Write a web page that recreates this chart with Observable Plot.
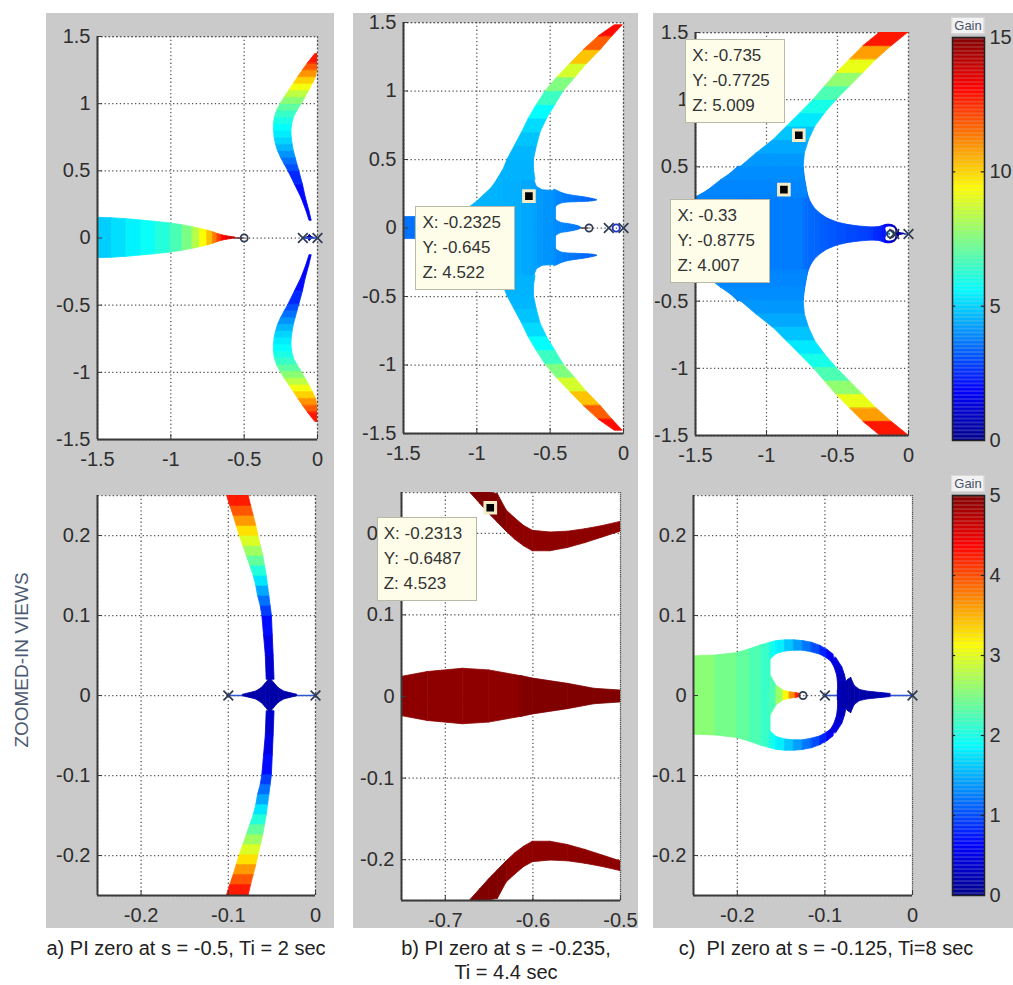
<!DOCTYPE html>
<html><head><meta charset="utf-8">
<script src="https://cdn.jsdelivr.net/npm/d3@7"></script>
<script src="https://cdn.jsdelivr.net/npm/@observablehq/plot@0.6"></script>
<style>
body{margin:0;background:#fff;font-family:"Liberation Sans",Arial,Helvetica,sans-serif;}
#wrap{position:relative;width:1013px;height:985px;overflow:hidden;background:#fff;}
.col{position:absolute;background:#cacaca;}
.pl{position:absolute;}
.tip{position:absolute;width:100px;height:84px;background:#fdfde9;border:1px solid #b8b8a6;font-size:17px;line-height:25px;color:#333;padding:3px 0 0 6px;box-sizing:border-box;white-space:nowrap;}
.cap{position:absolute;font-size:20px;line-height:24px;color:#222;text-align:center;white-space:nowrap;transform:translateX(-50%);}
.gain{position:absolute;font-size:13px;line-height:15px;color:#4a5268;background:#f2f2f2;border:1px solid #d8d8d8;padding:0 2px;transform:translateX(-50%);}
.side{position:absolute;font-size:19px;color:#4c5a72;white-space:nowrap;transform:translate(-50%,-50%) rotate(-90deg);}
</style></head><body><div id="wrap"></div>
<script>
// ---------------- data ----------------
const xTicksTop = [-1.5, -1, -0.5, 0];
const yTicksTop = [-1.5, -1, -0.5, 0, 0.5, 1, 1.5];
const xTicksZoomAC = [-0.2, -0.1, 0];
const xTicksZoomB = [-0.7, -0.6, -0.5];
const yTicksZoom = [-0.2, -0.1, 0, 0.1, 0.2];
const gainTicksTop = [0, 5, 10, 15];
const gainTicksBottom = [0, 1, 2, 3, 4, 5];

const polesA = [-0.1, 0], zerosA = [-0.5];
const polesB = [-0.1, 0], zerosB = [-0.235];
const polesC = [-0.1, 0], zerosC = [-0.125];
const loopsB = [-0.05];

// band rows: [x, halfWidth, gain]; Y rows: [x, yLow, yHigh, gain]; X rows: [y, xLeft, xRight, gain]
const aTopReal = [
  [-1.5,0.15,4.8],[-1.4,0.147,5.0],[-1.3,0.14,5.3],[-1.2,0.13,5.6],[-1.1,0.12,5.9],[-1.0,0.108,6.4],
  [-0.92,0.095,7.0],[-0.85,0.08,7.8],[-0.8,0.068,8.8],[-0.75,0.055,9.8],[-0.71,0.042,10.8],
  [-0.68,0.03,11.8],[-0.65,0.02,12.8],[-0.62,0.013,13.4],[-0.59,0.008,13.8],[-0.56,0.004,14.2]];
const aTopArc = [
  [0.13,-0.055,-0.04,1.7],[0.2,-0.075,-0.055,1.8],[0.3,-0.11,-0.08,1.9],[0.4,-0.155,-0.1,2.1],
  [0.5,-0.2,-0.125,2.8],[0.55,-0.226,-0.138,3.3],[0.6,-0.25,-0.15,3.8],[0.65,-0.27,-0.162,4.3],
  [0.7,-0.284,-0.17,4.8],[0.75,-0.293,-0.176,5.2],[0.8,-0.297,-0.178,5.5],[0.85,-0.297,-0.172,5.8],
  [0.9,-0.29,-0.16,6.2],[0.95,-0.275,-0.135,6.7],[1.0,-0.25,-0.105,7.3],[1.05,-0.222,-0.08,8.0],
  [1.1,-0.19,-0.055,8.8],[1.15,-0.16,-0.03,9.6],[1.2,-0.13,-0.01,10.5],[1.25,-0.098,0,11.4],
  [1.3,-0.065,0,12.2],[1.37,-0.015,0,13.4]];
const aTopStem = [[-0.56, -0.5]];
const aBotArc = [
  [0.02,-0.056,-0.047,0.3],[0.05,-0.057,-0.048,0.4],[0.075,-0.059,-0.049,0.55],[0.1,-0.061,-0.05,0.8],
  [0.1125,-0.063,-0.0515,1.05],[0.125,-0.066,-0.053,1.3],[0.1375,-0.068,-0.0545,1.6],[0.15,-0.071,-0.056,1.9],
  [0.1625,-0.075,-0.058,2.2],[0.175,-0.079,-0.06,2.5],[0.1875,-0.083,-0.0628,2.8],[0.2,-0.087,-0.0655,3.1],
  [0.2125,-0.0905,-0.068,3.45],[0.225,-0.094,-0.071,3.8],[0.2375,-0.098,-0.074,4.1],[0.25,-0.1015,-0.0767,4.4]];
const aBotBlob = [
  [-0.083,0.001,0.15],[-0.075,0.003,0.15],[-0.068,0.005,0.15],[-0.062,0.009,0.15],[-0.057,0.015,0.15],
  [-0.052,0.022,0.15],[-0.047,0.015,0.15],[-0.042,0.009,0.15],[-0.036,0.005,0.15],[-0.029,0.003,0.15],[-0.021,0.001,0.15]];
const aBotStem = [[-0.1, 0]];

const bTopBody = [
  [-1.5,0.08,3.5],[-1.42,0.08,3.6],[-1.3,0.09,3.9],[-1.15,0.12,4.3],[-1.05,0.15,4.5],[-1.0,0.19,4.5],
  [-0.95,0.24,4.5],[-0.9,0.29,4.5],[-0.86,0.35,4.5],[-0.82,0.42,4.5],[-0.7,0.42,4.4],[-0.62,0.38,4.3],
  [-0.59,0.3,4.2],[-0.55,0.275,4.1],[-0.46,0.27,4.0]];
const bTopArm = [
  [0.35,-0.86,-0.6,4.5],[0.42,-0.82,-0.61,4.5],[0.5,-0.79,-0.61,4.5],[0.6,-0.74,-0.59,4.6],
  [0.7,-0.69,-0.565,4.9],[0.8,-0.645,-0.52,5.3],[0.9,-0.59,-0.463,6.0],[1.0,-0.53,-0.406,7.0],
  [1.1,-0.45,-0.326,8.0],[1.2,-0.36,-0.246,9.5],[1.3,-0.27,-0.155,11.0],[1.4,-0.167,-0.075,12.5],[1.48,-0.06,-0.005,13.5]];
const bTopNeck = [
  [-0.47,0.07,4.0],[-0.45,0.05,3.9],[-0.42,0.035,3.9],[-0.38,0.03,3.8],[-0.34,0.022,3.7],[-0.31,0.014,3.6],[-0.29,0.005,3.5]];
const bTopFinger = [
  [-0.47,0.14,0.28,4.0],[-0.45,0.165,0.27,3.9],[-0.42,0.18,0.255,3.8],[-0.38,0.186,0.242,3.7],
  [-0.33,0.188,0.233,3.6],[-0.28,0.19,0.226,3.5],[-0.24,0.192,0.219,3.4],[-0.21,0.195,0.212,3.3],[-0.18,0.2,0.205,3.2]];
const bTopStem = [[-0.29, -0.235]];
const bBotBand = [
  [-0.75,0.024,4.93],[-0.72,0.03,4.93],[-0.68,0.034,4.93],[-0.65,0.032,4.93],[-0.614,0.025,4.93],
  [-0.613,0.025,5.1],[-0.6,0.022,5.1],[-0.56,0.0155,5.1],[-0.53,0.0095,5.1],[-0.5,0.0073,5.1]];
const bBotArc = [
  [-0.671,0.249,0.25,5.1],[-0.66,0.236,0.25,5.1],[-0.65,0.224,0.25,5.1],[-0.64,0.213,0.248,5.1],
  [-0.63,0.202,0.228,4.93],[-0.62,0.192,0.218,4.93],[-0.61,0.184,0.209,4.93],[-0.6,0.178,0.203,4.93],
  [-0.58,0.178,0.201,4.93],[-0.56,0.182,0.202,4.93],[-0.54,0.188,0.205,4.93],[-0.52,0.195,0.209,4.93],[-0.5,0.202,0.214,4.93]];

const cTopBody = [
  [-1.5,0.27,3.8],[-1.4,0.33,3.8],[-1.3,0.4,3.8],[-1.2,0.5,3.8],[-0.74,0.5,3.6],[-0.73,0.42,3.5],
  [-0.71,0.3,3.5],[-0.69,0.24,3.4],[-0.66,0.19,3.4],[-0.62,0.15,3.3],[-0.57,0.115,3.2],[-0.5,0.085,3.1],
  [-0.43,0.068,3.0],[-0.36,0.057,2.9],[-0.29,0.051,2.8],[-0.25,0.049,2.7]];
const cTopArm = [
  [0.27,-1.5,-0.715,3.8],[0.3,-1.44,-0.71,3.8],[0.4,-1.32,-0.73,3.9],[0.5,-1.18,-0.738,4.0],
  [0.6,-1.07,-0.73,4.2],[0.7,-0.95,-0.70,4.5],[0.8,-0.855,-0.656,5.0],[0.9,-0.76,-0.586,5.6],
  [1.0,-0.668,-0.504,6.3],[1.1,-0.586,-0.41,7.2],[1.2,-0.504,-0.316,8.3],[1.3,-0.41,-0.223,9.8],
  [1.4,-0.316,-0.117,11.8],[1.5,-0.2,0,13.8]];
const cBotBody = [[-0.25,0.049,2.6],[-0.225,0.05,2.5],[-0.2,0.053,2.4],[-0.185,0.058,2.3],[-0.172,0.063,2.2],[-0.162,0.066,2.1]];
const cBotCusp = [[-0.162,0.025,2.1],[-0.155,0.012,2.4],[-0.147,0.006,2.9],[-0.14,0.004,3.4],[-0.133,0.003,4.0],[-0.128,0.002,4.5]];
const cBotRingTop = [
  [-0.162,0.045,0.066,2.0],[-0.155,0.052,0.068,1.9],[-0.145,0.055,0.069,1.7],[-0.135,0.056,0.069,1.5],
  [-0.125,0.056,0.068,1.3],[-0.115,0.054,0.066,1.1],[-0.105,0.051,0.062,0.9],[-0.097,0.046,0.057,0.7],[-0.09,0.04,0.051,0.5]];
const cBotRingSide = [[0.047,-0.095,-0.087,0.5],[0.035,-0.089,-0.08,0.4],[0.025,-0.086,-0.077,0.3],[0.015,-0.085,-0.075,0.2],[0.0,-0.085,-0.074,0.2]];
const cBotBlob = [
  [-0.085,0.006,0.2],[-0.078,0.014,0.2],[-0.073,0.02,0.15],[-0.07,0.022,0.15],[-0.066,0.012,0.15],
  [-0.06,0.007,0.15],[-0.052,0.005,0.15],[-0.044,0.004,0.15],[-0.035,0.003,0.2],[-0.025,0.002,0.25]];
const cBotStem = [[-0.1, -0.085], [-0.025, 0]];

const tipB = {x: -0.645, y: 0.2325, text: ["X: -0.2325", "Y: -0.645", "Z: 4.522"]};
const tipC1 = {x: -0.7725, y: 0.735, text: ["X: -0.735", "Y: -0.7725", "Z: 5.009"]};
const tipC2 = {x: -0.8775, y: 0.33, text: ["X: -0.33", "Y: -0.8775", "Z: 4.007"]};
const tipBz = {x: -0.6487, y: 0.2313, text: ["X: -0.2313", "Y: -0.6487", "Z: 4.523"]};

const captions = [
  {cx: 186, top: 936, lines: ["a) PI zero at s = -0.5, Ti = 2 sec"]},
  {cx: 506, top: 936, lines: ["b) PI zero at s = -0.235,", "Ti = 4.4 sec"]},
  {cx: 826, top: 936, lines: ["c)&nbsp; PI zero at s = -0.125, Ti=8 sec"]}
];

// ---------------- style / helpers ----------------
const FONT = '"Liberation Sans", Arial, Helvetica, sans-serif';
const jetStops = [0, 0.125, 0.375, 0.625, 0.875, 1];
const jetColors = ["#00008f", "#0000ff", "#00ffff", "#ffff00", "#ff0000", "#800000"];
const jetScale = gmax => ({type: "linear", domain: jetStops.map(t => t * gmax), range: jetColors, interpolate: "rgb", clamp: true});
const fmt = d => String(d);
const MARK = "#2e3b55";
const wrap = document.getElementById("wrap");
function addDiv(cls, css, html) {
  const d = document.createElement("div");
  d.className = cls; Object.assign(d.style, css);
  if (html != null) d.innerHTML = html;
  wrap.appendChild(d); return d;
}
let segCounter = 0;
function shape(rows, kind, mirror) {
  const out = [];
  const signs = mirror ? [1, -1] : [1];
  const gi = kind === "band" ? 2 : 3;
  for (const s of signs) {
    for (let i = 0; i < rows.length - 1; i++) {
      const g = (rows[i][gi] + rows[i + 1][gi]) / 2;
      const id = "s" + (segCounter++);
      for (const r of [rows[i], rows[i + 1]]) {
        let p, lo, hi;
        if (kind === "band") { p = r[0]; lo = -r[1]; hi = r[1]; }
        else if (kind === "Y") { p = r[0]; lo = s > 0 ? r[1] : -r[2]; hi = s > 0 ? r[2] : -r[1]; }
        else { p = s * r[0]; lo = r[1]; hi = r[2]; }
        out.push({p, lo, hi, g, id});
      }
    }
  }
  const o = {z: "id", fill: "g", stroke: "g", strokeWidth: 0.8, clip: true};
  return kind === "X"
    ? Plot.areaX(out, {y: "p", x1: "lo", x2: "hi", ...o})
    : Plot.areaY(out, {x: "p", y1: "lo", y2: "hi", ...o});
}
const stems = (arr, color) => Plot.ruleY(arr, {y: 0, x1: d => d[0], x2: d => d[1], stroke: color, strokeWidth: 1.6, clip: true});
const inDom = (arr, dom) => arr.filter(v => v >= dom[0] - 1e-9 && v <= dom[1] + 1e-9);
const poles = (arr, dom) => Plot.dot(inDom(arr, dom), {x: d => d, y: 0, symbol: "times", r: 4.5, stroke: MARK, strokeWidth: 1.7});
const zeros = (arr, dom) => Plot.dot(inDom(arr, dom), {x: d => d, y: 0, symbol: "circle", r: 3.6, stroke: MARK, strokeWidth: 1.7, fill: "none"});
const tipMark = tip => Plot.dot([tip], {x: "x", y: "y", symbol: "square", r: 6, fill: "#000", stroke: "#f3ecc6", strokeWidth: 3});

function panel(L, xDomain, yDomain, xTicks, yTicks, gmax, marks, tips) {
  const fw = L.width - L.ml - L.mr, fh = L.height - L.mt - L.mb;
  const dotted = {stroke: "#555", strokeOpacity: 1, strokeWidth: 1.25, strokeDasharray: "1.3,2.5"};
  const plot = Plot.plot({
    width: L.width, height: L.height,
    marginLeft: L.ml, marginRight: L.mr, marginTop: L.mt, marginBottom: L.mb,
    x: {domain: xDomain}, y: {domain: yDomain},
    color: jetScale(gmax),
    style: {fontFamily: FONT, fontSize: "20px", color: "#2e2e2e", background: "transparent", overflow: "visible"},
    marks: [
      Plot.frame({fill: "white"}),
      Plot.gridX({ticks: xTicks, ...dotted}),
      Plot.gridY({ticks: yTicks, ...dotted}),
      Plot.frame({...dotted, fill: "none"}),
      ...marks,
      Plot.ruleX([xDomain[0]], {stroke: "#3a3a3a", strokeWidth: 2}),
      Plot.ruleY([yDomain[0]], {stroke: "#3a3a3a", strokeWidth: 2}),
      Plot.tickX(xTicks, {insetTop: fh - 5, stroke: "#3a3a3a"}),
      Plot.tickY(yTicks, {insetRight: fw - 5, stroke: "#3a3a3a"}),
      Plot.axisX({ticks: xTicks, tickSize: 0, tickPadding: 12, tickFormat: fmt}),
      Plot.axisY({ticks: yTicks, tickSize: 0, tickPadding: 7, tickFormat: fmt}),
      ...(tips || []).map(t => tipMark(t.tip))
    ]
  });
  plot.classList.add("pl");
  plot.style.left = L.left + "px"; plot.style.top = L.top + "px";
  wrap.appendChild(plot);
  const sx = plot.scale("x"), sy = plot.scale("y");
  for (const t of tips || []) {
    const px = L.left + sx.apply(t.tip.x), py = L.top + sy.apply(t.tip.y);
    const top = t.place === "above" ? py - 12 - 84 : py + 10;
    addDiv("tip", {left: (px - 13 - 100) + "px", top: top + "px"}, t.tip.text.join("<br>"));
  }
  return plot;
}

function colorbar(L, gmax, ticks) {
  const step = gmax / 300;
  const cells = d3.range(0, gmax, step);
  const inner = ticks.slice(1, -1);
  const plot = Plot.plot({
    width: L.width, height: L.height,
    marginLeft: L.ml, marginRight: L.mr, marginTop: L.mt, marginBottom: L.mb,
    x: {domain: [0, 1], axis: null}, y: {domain: [0, gmax]},
    color: jetScale(gmax),
    style: {fontFamily: FONT, fontSize: "20px", color: "#2e2e2e", background: "transparent", overflow: "visible"},
    marks: [
      Plot.rect(cells, {x1: 0, x2: 1, y1: d => d, y2: d => d + step * 1.05, fill: d => d + step / 2}),
      Plot.frame({stroke: "#222", strokeWidth: 1.5}),
      Plot.ruleY(inner, {x1: 0, x2: 0.1, stroke: "#222", strokeWidth: 1.2}),
      Plot.ruleY(inner, {x1: 0.9, x2: 1, stroke: "#222", strokeWidth: 1.2}),
      Plot.axisY({anchor: "right", ticks, tickSize: 0, tickPadding: 5, tickFormat: fmt})
    ]
  });
  plot.classList.add("pl");
  plot.style.left = L.left + "px"; plot.style.top = L.top + "px";
  wrap.appendChild(plot);
  addDiv("gain", {left: (L.left + L.ml + (L.width - L.ml - L.mr) / 2) + "px", top: (L.top + L.mt - 20) + "px"}, "Gain");
}

// ---------------- layout ----------------
const layout = {
  aTop: {left: 46, top: 13, width: 288, height: 462, ml: 51, mr: 17, mt: 23, mb: 36},
  bTop: {left: 353, top: 13, width: 285, height: 462, ml: 50, mr: 15, mt: 9, mb: 42},
  cTop: {left: 653, top: 13, width: 280, height: 462, ml: 42, mr: 25, mt: 19, mb: 40},
  aBot: {left: 46, top: 475, width: 288, height: 453, ml: 51, mr: 19, mt: 20, mb: 33},
  bBot: {left: 353, top: 475, width: 285, height: 453, ml: 48, mr: 18, mt: 17, mb: 28},
  cBot: {left: 653, top: 475, width: 280, height: 453, ml: 40, mr: 21, mt: 20, mb: 33},
  cbTop: {left: 935, top: 13, width: 78, height: 462, ml: 17, mr: 29, mt: 24, mb: 35},
  cbBot: {left: 935, top: 475, width: 78, height: 453, ml: 17, mr: 29, mt: 20, mb: 33}
};

[[46, 288], [353, 285], [653, 360]].forEach(([l, w]) =>
  addDiv("col", {left: l + "px", top: "13px", width: w + "px", height: "915px"}));

const topX = [-1.5, 0], topY = [-1.5, 1.5];
const zoomAC = [-0.25, 0], zoomB = [-0.75, -0.5], zoomY = [-0.25, 0.25];

panel(layout.aTop, topX, topY, xTicksTop, yTicksTop, 15, [
  shape(aTopReal, "band"), shape(aTopArc, "X", true), shape(aBotBlob, "band"),
  stems(aTopStem, "#6b3b3b"), stems(aBotStem, "#2f55d4"),
  poles(polesA, topX), zeros(zerosA, topX)
]);
panel(layout.bTop, topX, topY, xTicksTop, yTicksTop, 15, [
  shape(bTopBody, "band"), shape(bTopArm, "X", true), shape(bTopNeck, "band"), shape(bTopFinger, "Y", true),
  stems(bTopStem, "#5a4a4a"),
  Plot.dot(loopsB, {x: d => d, y: 0, r: 3.6, stroke: "#2033c8", strokeWidth: 1.8, fill: "none"}),
  poles(polesB, topX), zeros(zerosB, topX)
], [{tip: tipB, place: "below"}]);
panel(layout.cTop, topX, topY, xTicksTop, yTicksTop, 15, [
  shape(cTopBody, "band"), shape(cTopArm, "X", true),
  shape(cBotBody, "band"), shape(cBotCusp, "band"), shape(cBotRingTop, "Y", true), shape(cBotRingSide, "X", true), shape(cBotBlob, "band"),
  stems(cBotStem, "#2f55d4"),
  poles(polesC, topX), zeros(zerosC, topX)
], [{tip: tipC1, place: "above"}, {tip: tipC2, place: "below"}]);
panel(layout.aBot, zoomAC, zoomY, xTicksZoomAC, yTicksZoom, 5, [
  stems(aBotStem, "#2f55d4"),
  shape(aBotArc, "X", true), shape(aBotBlob, "band"),
  poles(polesA, zoomAC), zeros(zerosA, zoomAC)
]);
panel(layout.bBot, zoomB, zoomY, xTicksZoomB, yTicksZoom, 5, [
  shape(bBotBand, "band"), shape(bBotArc, "Y", true),
  poles(polesB, zoomB), zeros(zerosB, zoomB)
], [{tip: tipBz, place: "below"}]);
panel(layout.cBot, zoomAC, zoomY, xTicksZoomAC, yTicksZoom, 5, [
  stems(cBotStem, "#2f55d4"),
  shape(cBotBody, "band"), shape(cBotCusp, "band"), shape(cBotRingTop, "Y", true), shape(cBotRingSide, "X", true), shape(cBotBlob, "band"),
  poles(polesC, zoomAC), zeros(zerosC, zoomAC)
]);
colorbar(layout.cbTop, 15, gainTicksTop);
colorbar(layout.cbBot, 5, gainTicksBottom);

addDiv("side", {left: "22px", top: "660px"}, "ZOOMED-IN VIEWS");
for (const c of captions) addDiv("cap", {left: c.cx + "px", top: c.top + "px"}, c.lines.join("<br>"));
</script></body></html>
